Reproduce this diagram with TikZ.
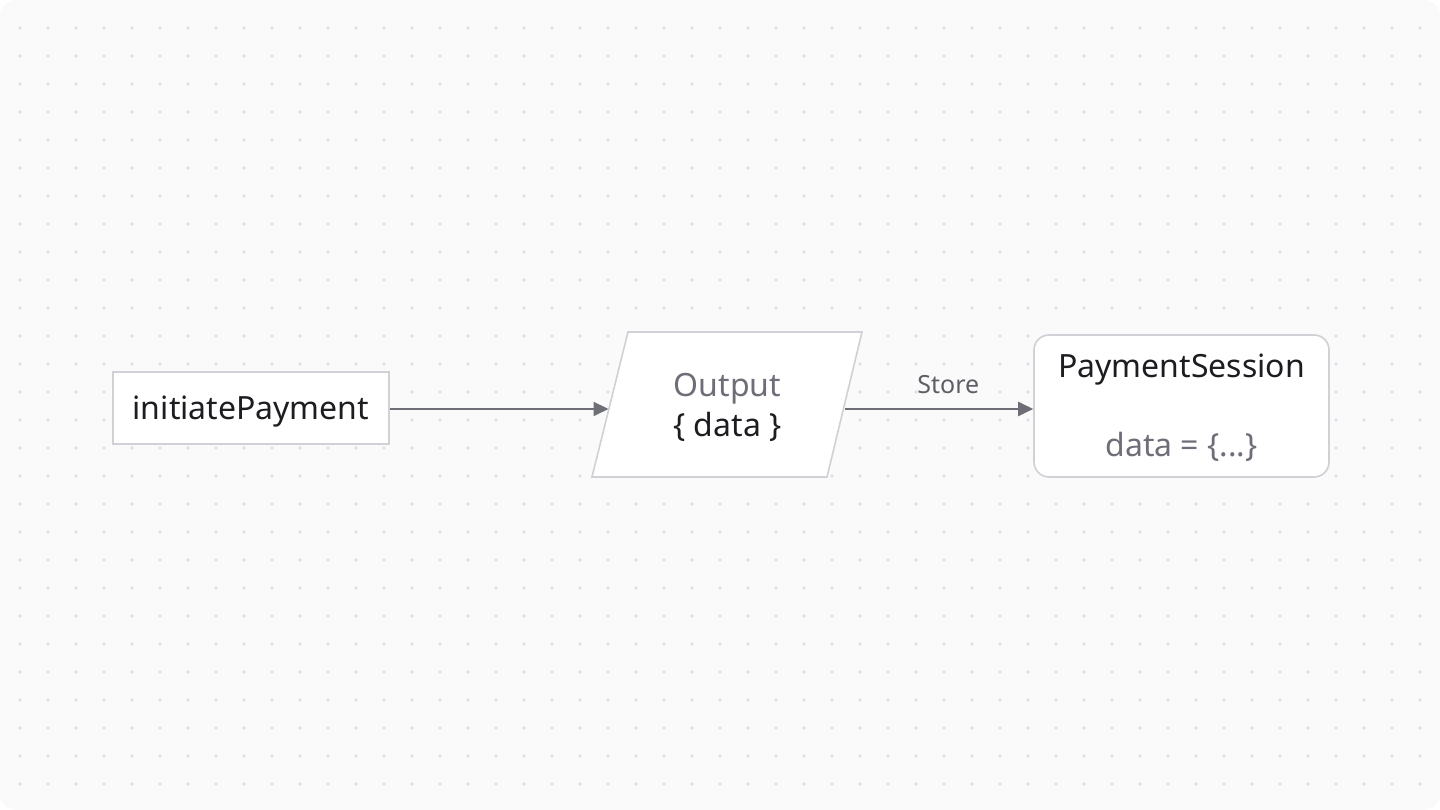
\documentclass[tikz,border=0pt]{standalone}
\usepackage{fontspec}
\setmainfont{Noto Sans}
\usetikzlibrary{arrows.meta}
\definecolor{bgc}{HTML}{FAFAFA}
\definecolor{dotc}{HTML}{E0E0E4}
\definecolor{bordc}{HTML}{D0D0D6}
\definecolor{darkt}{HTML}{1C1C21}
\definecolor{grayt}{HTML}{6E6E78}
\definecolor{arrc}{HTML}{6E6E76}
\tikzset{
  boxnode/.style={draw=bordc, line width=1.6pt, fill=white, inner sep=0pt},
  ghost/.style={inner sep=0pt, outer sep=0pt},
  arr/.style={draw=arrc, line width=2pt, -{Triangle[length=15pt,width=14pt]}},
  maintxt/.style={text=darkt, font=\fontsize{32}{36}\selectfont, anchor=base, inner sep=0pt},
  subtxt/.style={text=grayt, font=\fontsize{32}{36}\selectfont, anchor=base, inner sep=0pt},
  lbltxt/.style={text=grayt!85!black, font=\fontsize{25}{29}\selectfont, anchor=base, inner sep=0pt}
}
\begin{document}
\begin{tikzpicture}[x=1pt,y=1pt]
\useasboundingbox (0,0) rectangle (1440,810);
\fill[bgc, rounded corners=16pt] (0,0) rectangle (1440,810);
\foreach \i in {0,...,50} {
  \foreach \j in {1,...,28} {
    \fill[dotc] (20+28*\i, 810-28*\j) circle (1.8pt);
  }
}
% initiatePayment
\node[boxnode, minimum width=276pt, minimum height=72pt] (init) at (251, 402) {};
\node[maintxt] (initt) at (251, 390.5) {initiatePayment};
% Output parallelogram
\draw[draw=bordc, line width=1.6pt, fill=white] (628,478) -- (862,478) -- (827,333) -- (592,333) -- cycle;
\node[ghost, minimum width=236pt, minimum height=20pt] (out) at (726.5, 401) {};
\node[subtxt] (outa) at (727.5, 413) {Output};
\node[maintxt] (outb) at (727.5, 373) {\{ data \}};
% PaymentSession
\node[boxnode, rounded corners=15pt, minimum width=295pt, minimum height=142pt] (ps) at (1181.5, 404) {};
\node[maintxt] (pst) at (1181.5, 432) {PaymentSession};
\node[subtxt] (psd) at (1181.5, 353) {data = \{...\}};
% connectors
\draw[arr] (init.east |- out) -- (out.west);
\draw[arr] (out.east) -- node[lbltxt, pos=0.55, yshift=15pt] {Store} (ps.west |- out);
\end{tikzpicture}
\end{document}
